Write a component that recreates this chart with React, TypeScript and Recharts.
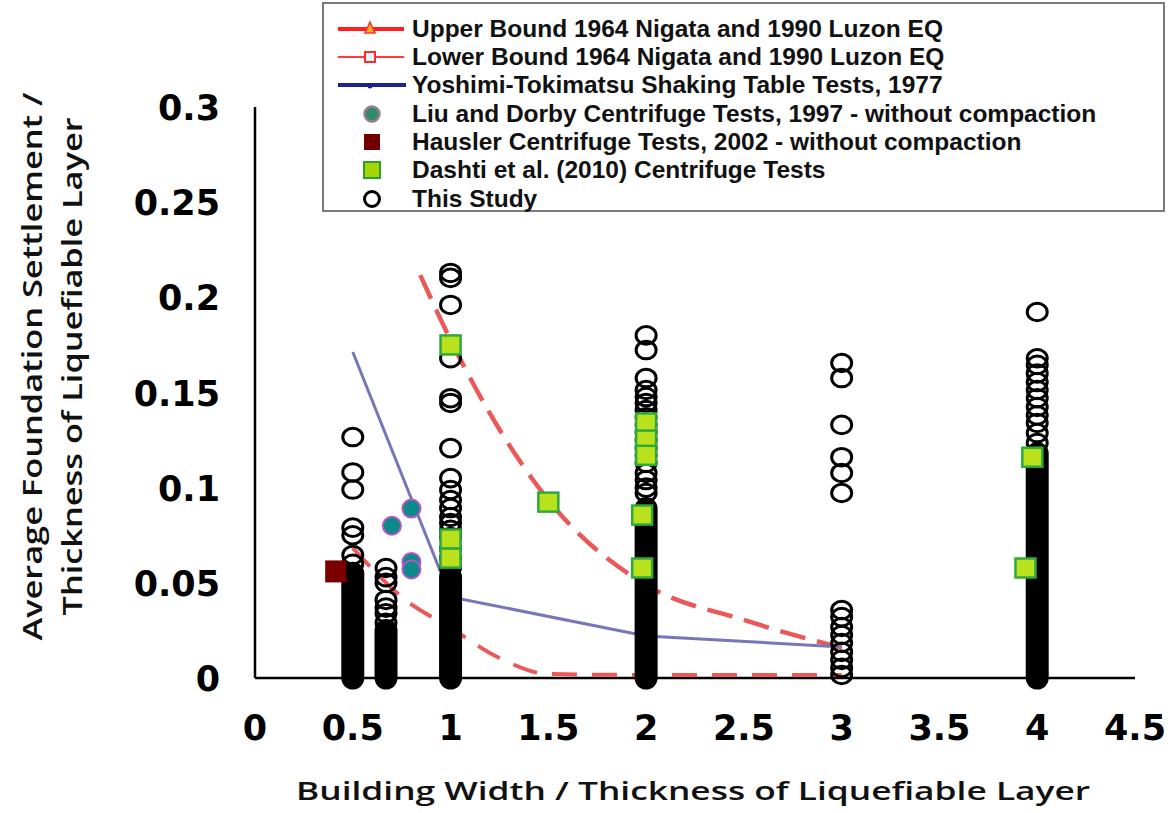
import { ScatterChart, Scatter, XAxis, YAxis, Legend } from "recharts";

const xTicks = [0, 0.5, 1, 1.5, 2, 2.5, 3, 3.5, 4, 4.5];
const yTicks = [0, 0.05, 0.1, 0.15, 0.2, 0.25, 0.3];

// "This Study" points that can be told apart, per column
const studyCols = [0.5, 0.67, 1, 2, 3, 4];
const studyVals = [
  [0.1266, 0.108, 0.099, 0.079, 0.075, 0.0646, 0.06],
  [0.0578, 0.053, 0.05, 0.041, 0.037, 0.034, 0.029],
  [0.2128, 0.2102, 0.196, 0.168, 0.147, 0.1445, 0.1208, 0.105, 0.0988, 0.0935, 0.0893, 0.0846, 0.0814, 0.0778, 0.074, 0.068, 0.063, 0.058],
  [0.18, 0.1723, 0.1576, 0.1513, 0.1476, 0.1445, 0.1408, 0.137, 0.133, 0.129, 0.125, 0.121, 0.117, 0.113, 0.1077, 0.104, 0.1, 0.0972],
  [0.1655, 0.1576, 0.133, 0.116, 0.1077, 0.0972, 0.0357, 0.032, 0.0268, 0.0226, 0.0184, 0.0137, 0.0095, 0.0053, 0.0016],
  [0.1923, 0.168, 0.1645, 0.16, 0.1555, 0.1513, 0.147, 0.1424, 0.138, 0.134, 0.1287, 0.1235],
];

// "This Study" ranges too dense to separate (0 up to top)
const denseX = [0.5, 0.67, 1, 2, 4];
const denseTop = [0.055, 0.025, 0.053, 0.089, 0.118];

const dashtiX = [1, 1, 1, 1.5, 2, 2, 2, 1.98, 1.98, 3.975, 3.94];
const dashtiY = [0.175, 0.073, 0.063, 0.0924, 0.134, 0.125, 0.117, 0.0856, 0.0578, 0.116, 0.0578];

const liuX = [0.7, 0.8, 0.8, 0.8];
const liuY = [0.08, 0.089, 0.061, 0.057];

const hauslerX = [0.41];
const hauslerY = [0.056];

const upperX = [0.845, 1, 1.5, 2, 2.5, 3];
const upperY = [0.2117, 0.1776, 0.0935, 0.0489, 0.0305, 0.0158];

const lowerX = [0.5, 0.75, 1, 1.25, 1.5, 2, 3];
const lowerY = [0.0683, 0.0426, 0.0263, 0.0105, 0.0021, 0.0016, 0.0016];

const yoshimiX = [0.5, 1, 2, 3];
const yoshimiY = [0.1713, 0.0426, 0.0221, 0.0163];

const legendNames = [
  "Upper Bound 1964 Nigata and 1990 Luzon EQ",
  "Lower Bound 1964 Nigata and 1990 Luzon EQ",
  "Yoshimi-Tokimatsu Shaking Table Tests, 1977",
  "Liu and Dorby Centrifuge Tests, 1997 - without compaction",
  "Hausler Centrifuge Tests, 2002 - without compaction",
  "Dashti et al. (2010) Centrifuge Tests",
  "This Study",
];

const zip = (xs: number[], ys: number[]) => xs.map((x, i) => ({ x, y: ys[i] }));

const studyData = studyCols.flatMap((x, i) => studyVals[i].map((y) => ({ x, y })));
const denseData = denseX.map((x, i) => [
  { x, y: 0 },
  { x, y: denseTop[i] },
]);

const noShape = () => <g />;

const Ring = (p: any) => (
  <ellipse cx={p.cx} cy={p.cy} rx={10} ry={8.8} fill="none" stroke="#000" strokeWidth={3} />
);
const GreenSq = (p: any) => (
  <rect x={p.cx - 10} y={p.cy - 9.5} width={20} height={19} fill="#b9e21c" stroke="#2eaa3a" strokeWidth={2.5} />
);
const Teal = (p: any) => (
  <circle cx={p.cx} cy={p.cy} r={9} fill="#0b8a8a" stroke="#b457c4" strokeWidth={2} />
);
const RedSq = (p: any) => (
  <rect x={p.cx - 10} y={p.cy - 11} width={21} height={22} fill="#7a0000" />
);

const XTick = (p: any) => (
  <text x={p.x} y={p.y + 62} textAnchor="middle" fontFamily="DejaVu Sans" fontWeight="bold" fontSize={35} fill="#000">
    {p.payload.value}
  </text>
);
const YTick = (p: any) => (
  <text x={p.x} y={p.y + 13} textAnchor="end" fontFamily="DejaVu Sans" fontWeight="bold" fontSize={35} fill="#000">
    {p.payload.value}
  </text>
);

const titleFont = { fontFamily: "Open Sans", fontWeight: 600, fill: "#111" } as const;

const XTitle = (p: any) => {
  const vb = p.viewBox || { x: 255, y: 678, width: 880 };
  return (
    <text x={vb.x + vb.width / 2 - 2} y={vb.y + 122} textAnchor="middle" fontSize={25} textLength={794} lengthAdjust="spacingAndGlyphs" {...titleFont}>
      Building Width / Thickness of Liquefiable Layer
    </text>
  );
};
const YTitle = (p: any) => {
  const vb = p.viewBox || { x: 0, y: 107, height: 571 };
  const cy = vb.y + vb.height / 2 - 26;
  return (
    <g>
      <text x={vb.x + 42} y={cy} transform={`rotate(-90, ${vb.x + 42}, ${cy})`} textAnchor="middle" fontSize={27} textLength={548} lengthAdjust="spacingAndGlyphs" {...titleFont}>
        Average Foundation Settlement /
      </text>
      <text x={vb.x + 82} y={cy} transform={`rotate(-90, ${vb.x + 82}, ${cy})`} textAnchor="middle" fontSize={27} textLength={498} lengthAdjust="spacingAndGlyphs" {...titleFont}>
        Thickness of Liquefiable Layer
      </text>
    </g>
  );
};

const legendIcons = [
  <g>
    <line x1={0} x2={66} y1={15} y2={15} stroke="#ff1f1f" strokeWidth={4} />
    <polygon points="32,8 37,19 27,19" fill="#ffb020" stroke="#ff3030" strokeWidth={1.5} />
  </g>,
  <g>
    <line x1={0} x2={66} y1={15} y2={15} stroke="#ff3a3a" strokeWidth={2} />
    <rect x={27} y={10} width={10} height={10} fill="#e6f6f6" stroke="#ff2a2a" strokeWidth={2} />
  </g>,
  <g>
    <line x1={0} x2={68} y1={15} y2={15} stroke="#1f1f8f" strokeWidth={4} />
    <circle cx={32} cy={16} r={2.5} fill="#1f1f8f" />
  </g>,
  <circle cx={34} cy={15} r={7.5} fill="#2e8b6e" stroke="#9b7f7f" strokeWidth={2.5} />,
  <rect x={26} y={7} width={16} height={16} fill="#730000" />,
  <rect x={26} y={7} width={16} height={16} fill="#a6d608" stroke="#2ca02c" strokeWidth={2} />,
  <circle cx={34} cy={15} r={7.5} fill="none" stroke="#000" strokeWidth={3} />,
];
const legendRowY = [27, 55, 83, 112, 140, 168, 197];

const LegendBox = () => (
  <div
    style={{
      position: "relative",
      width: 843,
      height: 210,
      boxSizing: "border-box",
      border: "2px solid #7a7a7a",
      background: "#fff",
    }}>
    {legendNames.map((name, i) => (
      <div
        key={name}
        style={{
          position: "absolute",
          left: 14,
          top: legendRowY[i] - 2 - 15,
          height: 30,
          display: "flex",
          alignItems: "center",
          whiteSpace: "nowrap",
        }}>
        <svg width={72} height={30}>
          {legendIcons[i]}
        </svg>
        <span
          style={{
            marginLeft: 2,
            fontFamily: "Liberation Sans, Arial, sans-serif",
            fontWeight: "bold",
            fontSize: 24.5,
            color: "#111",
          }}>
          {name}
        </span>
      </div>
    ))}
  </div>
);

export default function App() {
  return (
    <div style={{ position: "absolute", left: 0, top: 0, background: "#fff" }}>
      <ScatterChart width={1168} height={813} margin={{ top: 107, right: 33, bottom: 0, left: 0 }}>
        <XAxis
          type="number"
          dataKey="x"
          domain={[0, 4.5]}
          ticks={xTicks}
          interval={0}
          height={135}
          tickLine={false}
          tickSize={0}
          tickMargin={0}
          axisLine={{ stroke: "#000", strokeWidth: 2.5 }}
          tick={<XTick />}
          label={(props: any) => <XTitle {...props} />}
        />
        <YAxis
          type="number"
          dataKey="y"
          domain={[0, 0.3]}
          ticks={yTicks}
          interval={0}
          width={255}
          tickLine={false}
          tickSize={0}
          tickMargin={35}
          axisLine={{ stroke: "#000", strokeWidth: 2.5 }}
          tick={<YTick />}
          label={(props: any) => <YTitle {...props} />}
        />
        <Legend
          layout="horizontal"
          verticalAlign="middle"
          align="center"
          wrapperStyle={{ top: 2, left: 322, width: 843, height: 210 }}
          content={() => <LegendBox />}
        />
        <Scatter
          name="upper"
          data={zip(upperX, upperY)}
          line={{ stroke: "#ec5858", strokeWidth: 4.5, strokeDasharray: "26 12" }}
          lineJointType="monotoneX"
          shape={noShape}
          isAnimationActive={false}
        />
        <Scatter
          name="lower"
          data={zip(lowerX, lowerY)}
          line={{ stroke: "#ec5858", strokeWidth: 4, strokeDasharray: "25 15" }}
          lineJointType="monotoneX"
          shape={noShape}
          isAnimationActive={false}
        />
        <Scatter
          name="yoshimi"
          data={zip(yoshimiX, yoshimiY)}
          line={{ stroke: "#7676bb", strokeWidth: 3 }}
          lineJointType="linear"
          shape={noShape}
          isAnimationActive={false}
        />
        {denseData.map((d, i) => (
          <Scatter
            key={`dense-${i}`}
            data={d}
            line={{ stroke: "#000", strokeWidth: 23, strokeLinecap: "round" }}
            shape={noShape}
            isAnimationActive={false}
          />
        ))}
        <Scatter name="study" data={studyData} shape={Ring} isAnimationActive={false} />
        <Scatter name="dashti" data={zip(dashtiX, dashtiY)} shape={GreenSq} isAnimationActive={false} />
        <Scatter name="liu" data={zip(liuX, liuY)} shape={Teal} isAnimationActive={false} />
        <Scatter name="hausler" data={zip(hauslerX, hauslerY)} shape={RedSq} isAnimationActive={false} />
      </ScatterChart>
    </div>
  );
}
